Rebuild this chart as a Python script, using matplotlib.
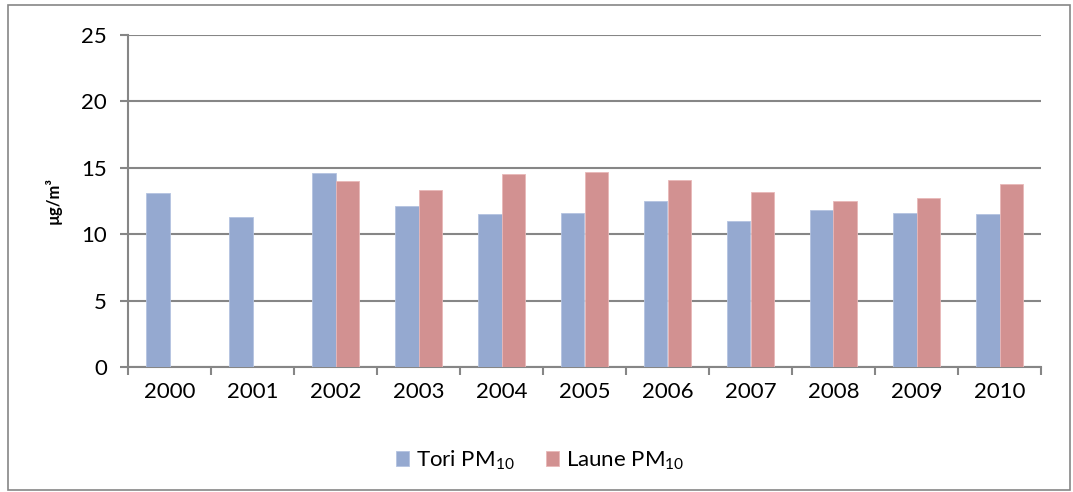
import numpy as np
import matplotlib.pyplot as plt
from matplotlib.patches import Rectangle

years = ["2000", "2001", "2002", "2003", "2004", "2005",
         "2006", "2007", "2008", "2009", "2010"]
tori = [13.1, 11.3, 14.6, 12.1, 11.5, 11.6, 12.5, 11.0, 11.8, 11.6, 11.5]
laune = [np.nan, np.nan, 14.0, 13.3, 14.5, 14.7, 14.1, 13.2, 12.5, 12.7, 13.8]
series_labels = ["Tori PM$_{10}$", "Laune PM$_{10}$"]

plt.rcParams["font.family"] = ["Lato", "DejaVu Sans"]
plt.rcParams["mathtext.fontset"] = "custom"
plt.rcParams["mathtext.rm"] = "Lato"
plt.rcParams["mathtext.default"] = "rm"

fig = plt.figure(figsize=(10.73, 4.92), dpi=100)
ax = fig.add_axes([128 / 1073, 1 - 367 / 492, (1041 - 128) / 1073, (367 - 35) / 492])

# frame around the whole chart
fig.patches.append(Rectangle((8 / 1073, 2 / 492), 1062 / 1073, 485 / 492,
                             transform=fig.transFigure, fill=False,
                             edgecolor="#868686", linewidth=1.2))

x = np.arange(len(years))
w = 1 / 3.5
ax.bar(x - w / 2, tori, w, color="#95A9D0", edgecolor="#B4C3E0", linewidth=0.6,
       label=series_labels[0], zorder=3)
ax.bar(x + w / 2, laune, w, color="#D29191", edgecolor="#E8B8B8", linewidth=0.6,
       label=series_labels[1], zorder=3)

ax.set_xlim(-0.5, len(years) - 0.5)
ax.set_ylim(0, 25)
ax.set_yticks([0, 5, 10, 15, 20, 25])
ax.yaxis.grid(True, color="#868686", linewidth=1.5, zorder=0)

ax.set_xticks(x)
ax.set_xticklabels(years)
ax.set_xticks(np.arange(len(years) + 1) - 0.5, minor=True)
ax.tick_params(axis="x", which="major", length=0, pad=11, labelsize=16)
ax.tick_params(axis="x", which="minor", length=6, width=1.5, color="#868686")
ax.tick_params(axis="y", length=6, width=1.5, color="#868686", pad=9, labelsize=16)

for side in ["top", "right"]:
    ax.spines[side].set_visible(False)
for side in ["left", "bottom"]:
    ax.spines[side].set_color("#868686")
    ax.spines[side].set_linewidth(1.5)

ax.set_ylabel("µg/m³", fontsize=12, fontweight="bold", labelpad=14)

fig.legend(loc="center", bbox_to_anchor=(540 / 1073, 1 - 460 / 492), ncol=2,
           frameon=False, fontsize=16, handlelength=0.6, handleheight=0.6,
           handletextpad=0.3, columnspacing=1.4)

fig.savefig("out.png", dpi=100)
